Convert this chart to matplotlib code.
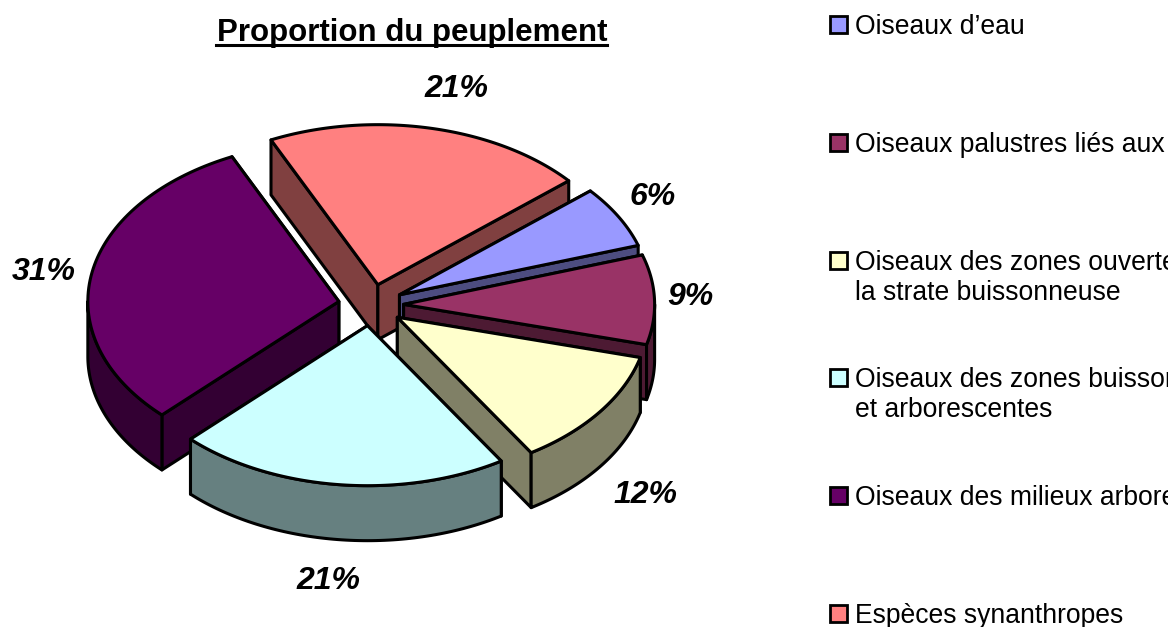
import numpy as np
import matplotlib
matplotlib.use('Agg')
import matplotlib.pyplot as plt
from matplotlib.patches import Polygon, Rectangle

plt.rcParams['font.family'] = ['Liberation Sans', 'DejaVu Sans']

# values, clockwise from the first slice
categories = ["Oiseaux d’eau", "Oiseaux palustres liés aux roselières",
              "Oiseaux des zones ouvertes à\nla strate buissonneuse",
              "Oiseaux des zones buissonnantes\net arborescentes",
              "Oiseaux des milieux arborescents", "Espèces synanthropes"]
values = [6.25, 9.05, 12.0, 21.4, 30.55, 20.75]
top_colors = ['#9999FF', '#993366', '#FFFFCC', '#CCFFFF', '#660066', '#FF8080']
side_colors = ['#4D4D80', '#4D1A33', '#808066', '#668080', '#330033', '#804040']
label_pos = [(653, 197), (690, 297), (645, 495), (328, 581), (44, 272), (456, 89)]
legend_y = [25, 143, 261, 378, 496, 614]

cx, cy = 371, 305
rx, ry = 251, 160
depth = 55
explode = 0.13
start = 40.5

fig = plt.figure(figsize=(11.73, 6.27), dpi=100)
ax = fig.add_axes([0, 0, 1, 1])
ax.set_xlim(0, 1173)
ax.set_ylim(627, 0)
ax.axis('off')


def arc(a1, a2, ox, oy):
    t = np.radians(np.linspace(a1, a2, 80))
    return np.column_stack([ox + rx * np.cos(t), oy - ry * np.sin(t)])


slices = []
a = start
total = sum(values)
for i, v in enumerate(values):
    a2 = a - v / total * 360
    slices.append((i, a, a2, (a + a2) / 2))
    a = a2

# back slices first so the front ones sit on top
slices.sort(key=lambda s: -np.sin(np.radians(s[3])))
for i, a1, a2, mid in slices:
    m = np.radians(mid)
    ox = cx + explode * rx * np.cos(m)
    oy = cy - explode * ry * np.sin(m)
    pts = arc(a1, a2, ox, oy)
    down = np.array([0, depth])
    apex = np.array([ox, oy])
    style = dict(facecolor=side_colors[i], edgecolor='black', linewidth=2.2, joinstyle='round')
    # cut faces, the one further back first
    for end in sorted([pts[0], pts[-1]], key=lambda p: p[1]):
        ax.add_patch(Polygon([apex, end, end + down, apex + down], **style))
    # outer wall only shows on the front half of the ellipse
    w1 = min(a1, 0)
    w2 = max(a2, -180)
    if w1 > w2:
        wall = arc(w1, w2, ox, oy)
        ax.add_patch(Polygon(np.vstack([wall, (wall + down)[::-1]]), **style))
    ax.add_patch(Polygon(np.vstack([[apex], pts]), facecolor=top_colors[i],
                         edgecolor='black', linewidth=2.2, joinstyle='round'))
    ax.text(label_pos[i][0], label_pos[i][1], f'{round(values[i])}%', fontsize=23, fontweight='bold',
            fontstyle='italic', ha='center', va='center')

ax.text(412, 33, 'Proportion du peuplement', fontsize=22.5, fontweight='bold',
        ha='center', va='center')
ax.plot([216, 607], [45, 45], color='black', linewidth=2.2)

# legend runs off the right edge of the picture
clip = Rectangle((0, 0), 1168, 627, transform=ax.transData)
for name, col, y in zip(categories, top_colors, legend_y):
    ax.add_patch(Rectangle((830, y - 9), 17, 17, facecolor=col, edgecolor='black', linewidth=2))
    t = ax.text(855, y - 11, name, fontsize=19.1, ha='left', va='top', linespacing=1.2)
    t.set_clip_path(clip)
    t.set_clip_on(True)

fig.savefig('out.png', dpi=100)
